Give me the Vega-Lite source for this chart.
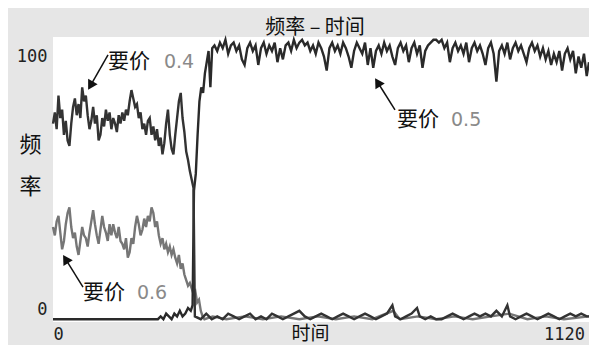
{
  "$schema": "https://vega.github.io/schema/vega-lite/v6.json",
  "autosize": {"type": "none"},
  "padding": {"left": 53, "top": 37, "right": 0, "bottom": 23},
  "width": 536,
  "height": 285,
  "background": "white",
  "title": {
    "text": "频率 – 时间",
    "font": "Noto Sans CJK SC",
    "fontSize": 20,
    "fontWeight": "normal",
    "color": "#111111",
    "anchor": "middle",
    "frame": "group",
    "baseline": "alphabetic",
    "offset": 0,
    "dx": -6,
    "dy": 46
  },
  "config": {
    "view": {"stroke": null},
    "axis": {"domain": false, "ticks": false, "grid": false}
  },
  "datasets": {
    "frame": [{}],
    "series": [
      {"s":"0.6","t":0,"v":33},{"s":"0.6","t":4,"v":30},{"s":"0.6","t":8,"v":35},{"s":"0.6","t":12,"v":37},{"s":"0.6","t":16,"v":31},{"s":"0.6","t":20,"v":25},{"s":"0.6","t":24,"v":28},{"s":"0.6","t":28,"v":34},{"s":"0.6","t":32,"v":38},{"s":"0.6","t":36,"v":40},{"s":"0.6","t":40,"v":33},{"s":"0.6","t":44,"v":29},{"s":"0.6","t":48,"v":31},{"s":"0.6","t":52,"v":26},{"s":"0.6","t":56,"v":23},{"s":"0.6","t":60,"v":28},{"s":"0.6","t":64,"v":33},{"s":"0.6","t":68,"v":30},{"s":"0.6","t":72,"v":29},{"s":"0.6","t":76,"v":26},{"s":"0.6","t":80,"v":31},{"s":"0.6","t":84,"v":35},{"s":"0.6","t":88,"v":39},{"s":"0.6","t":92,"v":34},{"s":"0.6","t":96,"v":30},{"s":"0.6","t":100,"v":27},{"s":"0.6","t":104,"v":32},{"s":"0.6","t":108,"v":37},{"s":"0.6","t":112,"v":33},{"s":"0.6","t":116,"v":31},{"s":"0.6","t":120,"v":28},{"s":"0.6","t":124,"v":34},{"s":"0.6","t":128,"v":30},{"s":"0.6","t":132,"v":34},{"s":"0.6","t":136,"v":31},{"s":"0.6","t":140,"v":29},{"s":"0.6","t":144,"v":33},{"s":"0.6","t":148,"v":28},{"s":"0.6","t":152,"v":27},{"s":"0.6","t":156,"v":25},{"s":"0.6","t":160,"v":29},{"s":"0.6","t":164,"v":22},{"s":"0.6","t":168,"v":24},{"s":"0.6","t":172,"v":29},{"s":"0.6","t":176,"v":27},{"s":"0.6","t":180,"v":33},{"s":"0.6","t":184,"v":37},{"s":"0.6","t":188,"v":34},{"s":"0.6","t":192,"v":30},{"s":"0.6","t":196,"v":32},{"s":"0.6","t":200,"v":36},{"s":"0.6","t":204,"v":33},{"s":"0.6","t":208,"v":37},{"s":"0.6","t":212,"v":35},{"s":"0.6","t":216,"v":40},{"s":"0.6","t":220,"v":38},{"s":"0.6","t":224,"v":33},{"s":"0.6","t":228,"v":35},{"s":"0.6","t":232,"v":30},{"s":"0.6","t":236,"v":27},{"s":"0.6","t":240,"v":29},{"s":"0.6","t":244,"v":25},{"s":"0.6","t":248,"v":27},{"s":"0.6","t":252,"v":24},{"s":"0.6","t":256,"v":26},{"s":"0.6","t":260,"v":23},{"s":"0.6","t":264,"v":25},{"s":"0.6","t":268,"v":22},{"s":"0.6","t":272,"v":20},{"s":"0.6","t":276,"v":23},{"s":"0.6","t":280,"v":18},{"s":"0.6","t":284,"v":20},{"s":"0.6","t":288,"v":16},{"s":"0.6","t":292,"v":14},{"s":"0.6","t":296,"v":12},{"s":"0.6","t":300,"v":13},{"s":"0.6","t":304,"v":11},{"s":"0.6","t":308,"v":9},{"s":"0.6","t":312,"v":10},{"s":"0.6","t":316,"v":6},{"s":"0.6","t":320,"v":7},{"s":"0.6","t":324,"v":3},{"s":"0.6","t":328,"v":1},{"s":"0.6","t":332,"v":0},{"s":"0.6","t":350,"v":1},{"s":"0.6","t":380,"v":0},{"s":"0.6","t":420,"v":1},{"s":"0.6","t":460,"v":0},{"s":"0.6","t":500,"v":1},{"s":"0.6","t":540,"v":0},{"s":"0.6","t":580,"v":1},{"s":"0.6","t":620,"v":0},{"s":"0.6","t":660,"v":1},{"s":"0.6","t":700,"v":0},{"s":"0.6","t":746,"v":3},{"s":"0.6","t":760,"v":0},{"s":"0.6","t":800,"v":1},{"s":"0.6","t":840,"v":0},{"s":"0.6","t":880,"v":1},{"s":"0.6","t":920,"v":0},{"s":"0.6","t":960,"v":1},{"s":"0.6","t":1000,"v":2},{"s":"0.6","t":1040,"v":0},{"s":"0.6","t":1080,"v":1},{"s":"0.6","t":1120,"v":0},{"s":"0.6","t":1175,"v":1},

      {"s":"0.5","t":0,"v":0},{"s":"0.5","t":60,"v":0},{"s":"0.5","t":120,"v":0},{"s":"0.5","t":180,"v":0},{"s":"0.5","t":230,"v":0},{"s":"0.5","t":236,"v":1},{"s":"0.5","t":242,"v":0},{"s":"0.5","t":248,"v":2},{"s":"0.5","t":254,"v":1},{"s":"0.5","t":260,"v":0},{"s":"0.5","t":266,"v":2},{"s":"0.5","t":272,"v":1},{"s":"0.5","t":278,"v":3},{"s":"0.5","t":284,"v":1},{"s":"0.5","t":290,"v":2},{"s":"0.5","t":296,"v":4},{"s":"0.5","t":302,"v":3},{"s":"0.5","t":306,"v":5},{"s":"0.5","t":309,"v":46},{"s":"0.5","t":313,"v":52},{"s":"0.5","t":317,"v":66},{"s":"0.5","t":321,"v":78},{"s":"0.5","t":325,"v":83},{"s":"0.5","t":329,"v":81},{"s":"0.5","t":333,"v":88},{"s":"0.5","t":337,"v":92},{"s":"0.5","t":341,"v":96},{"s":"0.5","t":345,"v":83},{"s":"0.5","t":349,"v":97},
      {"s":"0.5","t":354,"v":98},{"s":"0.5","t":360,"v":96},{"s":"0.5","t":366,"v":99},{"s":"0.5","t":372,"v":97},{"s":"0.5","t":378,"v":100},{"s":"0.5","t":384,"v":95},{"s":"0.5","t":390,"v":98},{"s":"0.5","t":396,"v":99},{"s":"0.5","t":402,"v":96},{"s":"0.5","t":408,"v":98},{"s":"0.5","t":414,"v":93},{"s":"0.5","t":420,"v":91},{"s":"0.5","t":426,"v":97},{"s":"0.5","t":432,"v":99},{"s":"0.5","t":438,"v":96},{"s":"0.5","t":444,"v":98},{"s":"0.5","t":450,"v":91},{"s":"0.5","t":456,"v":97},{"s":"0.5","t":462,"v":99},{"s":"0.5","t":468,"v":95},{"s":"0.5","t":474,"v":98},{"s":"0.5","t":480,"v":96},{"s":"0.5","t":486,"v":99},{"s":"0.5","t":492,"v":92},{"s":"0.5","t":498,"v":97},{"s":"0.5","t":504,"v":93},{"s":"0.5","t":510,"v":98},{"s":"0.5","t":516,"v":99},{"s":"0.5","t":522,"v":96},{"s":"0.5","t":528,"v":100},{"s":"0.5","t":534,"v":97},{"s":"0.5","t":540,"v":99},{"s":"0.5","t":546,"v":100},{"s":"0.5","t":552,"v":98},{"s":"0.5","t":558,"v":99},{"s":"0.5","t":564,"v":96},{"s":"0.5","t":570,"v":98},{"s":"0.5","t":576,"v":95},{"s":"0.5","t":582,"v":99},{"s":"0.5","t":588,"v":97},{"s":"0.5","t":594,"v":94},{"s":"0.5","t":600,"v":89},{"s":"0.5","t":606,"v":97},{"s":"0.5","t":612,"v":99},{"s":"0.5","t":618,"v":96},{"s":"0.5","t":624,"v":98},{"s":"0.5","t":630,"v":95},{"s":"0.5","t":636,"v":99},{"s":"0.5","t":642,"v":97},{"s":"0.5","t":648,"v":94},{"s":"0.5","t":654,"v":90},{"s":"0.5","t":660,"v":96},{"s":"0.5","t":666,"v":99},{"s":"0.5","t":672,"v":97},{"s":"0.5","t":678,"v":95},{"s":"0.5","t":684,"v":99},{"s":"0.5","t":690,"v":91},{"s":"0.5","t":696,"v":97},{"s":"0.5","t":702,"v":90},{"s":"0.5","t":708,"v":96},{"s":"0.5","t":714,"v":98},{"s":"0.5","t":720,"v":95},{"s":"0.5","t":726,"v":99},{"s":"0.5","t":732,"v":96},{"s":"0.5","t":738,"v":98},{"s":"0.5","t":744,"v":94},{"s":"0.5","t":750,"v":91},{"s":"0.5","t":756,"v":97},{"s":"0.5","t":762,"v":99},{"s":"0.5","t":768,"v":96},{"s":"0.5","t":774,"v":98},{"s":"0.5","t":780,"v":92},{"s":"0.5","t":786,"v":97},{"s":"0.5","t":792,"v":99},{"s":"0.5","t":798,"v":95},{"s":"0.5","t":804,"v":98},{"s":"0.5","t":810,"v":90},{"s":"0.5","t":816,"v":96},{"s":"0.5","t":822,"v":98},{"s":"0.5","t":828,"v":99},{"s":"0.5","t":834,"v":100},{"s":"0.5","t":840,"v":100},{"s":"0.5","t":846,"v":99},{"s":"0.5","t":852,"v":100},{"s":"0.5","t":858,"v":97},{"s":"0.5","t":864,"v":99},{"s":"0.5","t":870,"v":92},{"s":"0.5","t":876,"v":97},{"s":"0.5","t":882,"v":99},{"s":"0.5","t":888,"v":96},{"s":"0.5","t":894,"v":98},{"s":"0.5","t":900,"v":95},{"s":"0.5","t":906,"v":99},{"s":"0.5","t":912,"v":92},{"s":"0.5","t":918,"v":97},{"s":"0.5","t":924,"v":99},{"s":"0.5","t":930,"v":96},{"s":"0.5","t":936,"v":98},{"s":"0.5","t":942,"v":95},{"s":"0.5","t":948,"v":91},{"s":"0.5","t":954,"v":97},{"s":"0.5","t":960,"v":99},{"s":"0.5","t":966,"v":95},{"s":"0.5","t":972,"v":85},{"s":"0.5","t":978,"v":96},{"s":"0.5","t":984,"v":98},{"s":"0.5","t":990,"v":95},{"s":"0.5","t":996,"v":99},{"s":"0.5","t":1002,"v":93},{"s":"0.5","t":1008,"v":97},{"s":"0.5","t":1014,"v":99},{"s":"0.5","t":1020,"v":96},{"s":"0.5","t":1026,"v":98},{"s":"0.5","t":1032,"v":95},{"s":"0.5","t":1038,"v":92},{"s":"0.5","t":1044,"v":97},{"s":"0.5","t":1050,"v":99},{"s":"0.5","t":1056,"v":96},{"s":"0.5","t":1062,"v":98},{"s":"0.5","t":1068,"v":94},{"s":"0.5","t":1074,"v":97},{"s":"0.5","t":1080,"v":93},{"s":"0.5","t":1086,"v":96},{"s":"0.5","t":1092,"v":91},{"s":"0.5","t":1098,"v":95},{"s":"0.5","t":1104,"v":92},{"s":"0.5","t":1110,"v":96},{"s":"0.5","t":1116,"v":89},{"s":"0.5","t":1122,"v":95},{"s":"0.5","t":1128,"v":97},{"s":"0.5","t":1134,"v":93},{"s":"0.5","t":1140,"v":96},{"s":"0.5","t":1146,"v":88},{"s":"0.5","t":1152,"v":94},{"s":"0.5","t":1158,"v":90},{"s":"0.5","t":1164,"v":95},{"s":"0.5","t":1170,"v":87},{"s":"0.5","t":1175,"v":92},

      {"s":"0.4","t":0,"v":70},{"s":"0.4","t":4,"v":74},{"s":"0.4","t":8,"v":68},{"s":"0.4","t":12,"v":80},{"s":"0.4","t":16,"v":72},{"s":"0.4","t":20,"v":75},{"s":"0.4","t":24,"v":66},{"s":"0.4","t":28,"v":71},{"s":"0.4","t":32,"v":64},{"s":"0.4","t":36,"v":62},{"s":"0.4","t":40,"v":70},{"s":"0.4","t":44,"v":76},{"s":"0.4","t":48,"v":79},{"s":"0.4","t":52,"v":73},{"s":"0.4","t":56,"v":77},{"s":"0.4","t":60,"v":72},{"s":"0.4","t":64,"v":83},{"s":"0.4","t":68,"v":78},{"s":"0.4","t":72,"v":80},{"s":"0.4","t":76,"v":73},{"s":"0.4","t":80,"v":68},{"s":"0.4","t":84,"v":71},{"s":"0.4","t":88,"v":76},{"s":"0.4","t":92,"v":70},{"s":"0.4","t":96,"v":73},{"s":"0.4","t":100,"v":64},{"s":"0.4","t":104,"v":66},{"s":"0.4","t":108,"v":72},{"s":"0.4","t":112,"v":69},{"s":"0.4","t":116,"v":75},{"s":"0.4","t":120,"v":71},{"s":"0.4","t":124,"v":74},{"s":"0.4","t":128,"v":68},{"s":"0.4","t":132,"v":72},{"s":"0.4","t":136,"v":70},{"s":"0.4","t":140,"v":67},{"s":"0.4","t":144,"v":73},{"s":"0.4","t":148,"v":70},{"s":"0.4","t":152,"v":74},{"s":"0.4","t":156,"v":71},{"s":"0.4","t":160,"v":75},{"s":"0.4","t":164,"v":73},{"s":"0.4","t":168,"v":78},{"s":"0.4","t":172,"v":82},{"s":"0.4","t":176,"v":79},{"s":"0.4","t":180,"v":76},{"s":"0.4","t":184,"v":77},{"s":"0.4","t":188,"v":72},{"s":"0.4","t":192,"v":74},{"s":"0.4","t":196,"v":68},{"s":"0.4","t":200,"v":70},{"s":"0.4","t":204,"v":66},{"s":"0.4","t":208,"v":71},{"s":"0.4","t":212,"v":72},{"s":"0.4","t":216,"v":66},{"s":"0.4","t":220,"v":69},{"s":"0.4","t":224,"v":64},{"s":"0.4","t":228,"v":68},{"s":"0.4","t":232,"v":62},{"s":"0.4","t":236,"v":65},{"s":"0.4","t":240,"v":59},{"s":"0.4","t":244,"v":63},{"s":"0.4","t":248,"v":70},{"s":"0.4","t":252,"v":75},{"s":"0.4","t":256,"v":66},{"s":"0.4","t":260,"v":61},{"s":"0.4","t":264,"v":59},{"s":"0.4","t":268,"v":66},{"s":"0.4","t":272,"v":72},{"s":"0.4","t":276,"v":78},{"s":"0.4","t":280,"v":81},{"s":"0.4","t":284,"v":72},{"s":"0.4","t":288,"v":67},{"s":"0.4","t":292,"v":60},{"s":"0.4","t":296,"v":57},{"s":"0.4","t":300,"v":53},{"s":"0.4","t":304,"v":50},{"s":"0.4","t":308,"v":47},{"s":"0.4","t":311,"v":1},{"s":"0.4","t":324,"v":0},{"s":"0.4","t":336,"v":2},{"s":"0.4","t":348,"v":0},{"s":"0.4","t":360,"v":1},{"s":"0.4","t":372,"v":0},{"s":"0.4","t":384,"v":2},{"s":"0.4","t":396,"v":1},{"s":"0.4","t":408,"v":0},{"s":"0.4","t":420,"v":1},{"s":"0.4","t":432,"v":2},{"s":"0.4","t":444,"v":0},{"s":"0.4","t":456,"v":1},{"s":"0.4","t":468,"v":0},{"s":"0.4","t":480,"v":2},{"s":"0.4","t":492,"v":1},{"s":"0.4","t":504,"v":0},{"s":"0.4","t":516,"v":1},{"s":"0.4","t":528,"v":2},{"s":"0.4","t":540,"v":3},{"s":"0.4","t":552,"v":1},{"s":"0.4","t":564,"v":0},{"s":"0.4","t":576,"v":1},{"s":"0.4","t":588,"v":2},{"s":"0.4","t":600,"v":1},{"s":"0.4","t":612,"v":0},{"s":"0.4","t":624,"v":1},{"s":"0.4","t":636,"v":2},{"s":"0.4","t":648,"v":1},{"s":"0.4","t":660,"v":0},{"s":"0.4","t":672,"v":1},{"s":"0.4","t":684,"v":2},{"s":"0.4","t":696,"v":1},{"s":"0.4","t":708,"v":0},{"s":"0.4","t":720,"v":1},{"s":"0.4","t":732,"v":2},{"s":"0.4","t":744,"v":5},{"s":"0.4","t":750,"v":1},{"s":"0.4","t":762,"v":0},{"s":"0.4","t":774,"v":1},{"s":"0.4","t":786,"v":2},{"s":"0.4","t":798,"v":4},{"s":"0.4","t":804,"v":1},{"s":"0.4","t":816,"v":0},{"s":"0.4","t":828,"v":1},{"s":"0.4","t":840,"v":0},{"s":"0.4","t":852,"v":0},{"s":"0.4","t":864,"v":1},{"s":"0.4","t":876,"v":2},{"s":"0.4","t":888,"v":1},{"s":"0.4","t":900,"v":0},{"s":"0.4","t":912,"v":1},{"s":"0.4","t":924,"v":2},{"s":"0.4","t":936,"v":1},{"s":"0.4","t":948,"v":2},{"s":"0.4","t":960,"v":1},{"s":"0.4","t":972,"v":3},{"s":"0.4","t":984,"v":1},{"s":"0.4","t":996,"v":5},{"s":"0.4","t":1002,"v":1},{"s":"0.4","t":1014,"v":0},{"s":"0.4","t":1026,"v":1},{"s":"0.4","t":1038,"v":2},{"s":"0.4","t":1050,"v":1},{"s":"0.4","t":1062,"v":0},{"s":"0.4","t":1074,"v":1},{"s":"0.4","t":1086,"v":2},{"s":"0.4","t":1098,"v":1},{"s":"0.4","t":1110,"v":0},{"s":"0.4","t":1122,"v":1},{"s":"0.4","t":1134,"v":2},{"s":"0.4","t":1146,"v":1},{"s":"0.4","t":1158,"v":2},{"s":"0.4","t":1170,"v":1},{"s":"0.4","t":1175,"v":1}
    ],
    "notes": [
      {"s": "0.4", "tx": 120.6, "nx": 243.3, "ty": 92.1, "ax1": 120.6, "ay1": 94.6, "ax2": 82.2, "ay2": 83.6},
      {"s": "0.5", "tx": 754.1, "nx": 872.5, "ty": 71.3, "ax1": 749.7, "ay1": 74.9, "ax2": 711.6, "ay2": 84.8},
      {"s": "0.6", "tx": 65.8, "nx": 184.1, "ty": 9.4, "ax1": 65.8, "ay1": 11.5, "ax2": 27.6, "ay2": 21.5}
    ]
  },
  "layer": [
    {
      "data": {"name": "frame"},
      "mark": {"type": "rect", "fill": "#e6e6e6", "clip": false},
      "encoding": {
        "x": {"datum": -98.6, "type": "quantitative"},
        "x2": {"datum": 1300},
        "y": {"datum": 111.4, "type": "quantitative"},
        "y2": {"datum": -15}
      }
    },
    {
      "data": {"name": "frame"},
      "mark": {"type": "rect", "fill": "white"},
      "encoding": {
        "x": {"datum": 0, "type": "quantitative"},
        "x2": {"datum": 1175},
        "y": {"datum": 101, "type": "quantitative"},
        "y2": {"datum": -1}
      }
    },
    {
      "data": {"name": "series"},
      "mark": {"type": "line", "strokeWidth": 2.4},
      "encoding": {
        "x": {
          "field": "t", "type": "quantitative",
          "scale": {"domain": [0, 1175], "nice": false, "zero": false},
          "axis": {
            "zindex": 2,
            "title": "时间",
            "titleFont": "Noto Sans CJK SC", "titleFontSize": 19, "titleFontWeight": "normal", "titleColor": "#111111",
            "titleX": 257, "titleY": 17, "titleAlign": "center", "titleBaseline": "alphabetic",
            "values": [0, 1120], "format": "d",
            "labelFont": "DejaVu Sans Mono", "labelFontSize": 17, "labelColor": "#222222",
            "labelFlush": true, "labelPadding": 4
          }
        },
        "y": {
          "field": "v", "type": "quantitative",
          "scale": {"domain": [-1, 101], "nice": false, "zero": false},
          "axis": {
            "zindex": 2,
            "title": ["频", "率"],
            "titleFont": "Noto Sans CJK SC", "titleFontSize": 22, "titleFontWeight": "normal", "titleColor": "#111111",
            "titleAngle": 0, "titleX": -23, "titleY": 114, "titleAlign": "center", "titleBaseline": "alphabetic",
            "titleLineHeight": 42,
            "values": [0, 100],
            "labelFont": "DejaVu Sans Mono", "labelFontSize": 17, "labelColor": "#222222",
            "labelPadding": 6, "labelBaseline": "middle",
            "labelOffset": {"condition": {"test": "datum.value == 0", "value": -10}, "value": 17}
          }
        },
        "color": {
          "field": "s", "type": "nominal",
          "scale": {"domain": ["0.6", "0.5", "0.4"], "range": ["#767676", "#2a2a2a", "#333333"]},
          "legend": null
        }
      }
    },
    {
      "data": {"name": "notes"},
      "mark": {"type": "rule", "color": "#111111", "strokeWidth": 1.5},
      "encoding": {
        "x": {"field": "ax1", "type": "quantitative"},
        "y": {"field": "ay1", "type": "quantitative"},
        "x2": {"field": "ax2"},
        "y2": {"field": "ay2"}
      }
    },
    {
      "data": {"name": "notes"},
      "mark": {"type": "point", "shape": "triangle-up", "filled": true, "size": 120, "color": "#111111", "opacity": 1},
      "encoding": {
        "x": {"field": "ax2", "type": "quantitative"},
        "y": {"field": "ay2", "type": "quantitative"},
        "angle": {"condition": {"test": "datum.s == '0.4'", "value": 210}, "value": 328}
      }
    },
    {
      "data": {"name": "notes"},
      "mark": {"type": "text", "text": "要价", "align": "left", "baseline": "middle", "font": "Noto Sans CJK SC", "fontSize": 21, "color": "#111111"},
      "encoding": {
        "x": {"field": "tx", "type": "quantitative"},
        "y": {"field": "ty", "type": "quantitative"}
      }
    },
    {
      "data": {"name": "notes"},
      "mark": {"type": "text", "align": "left", "baseline": "middle", "font": "DejaVu Sans", "fontSize": 19, "color": "#8a8a8a"},
      "encoding": {
        "x": {"field": "nx", "type": "quantitative"},
        "y": {"field": "ty", "type": "quantitative"},
        "text": {"field": "s"}
      }
    }
  ]
}
